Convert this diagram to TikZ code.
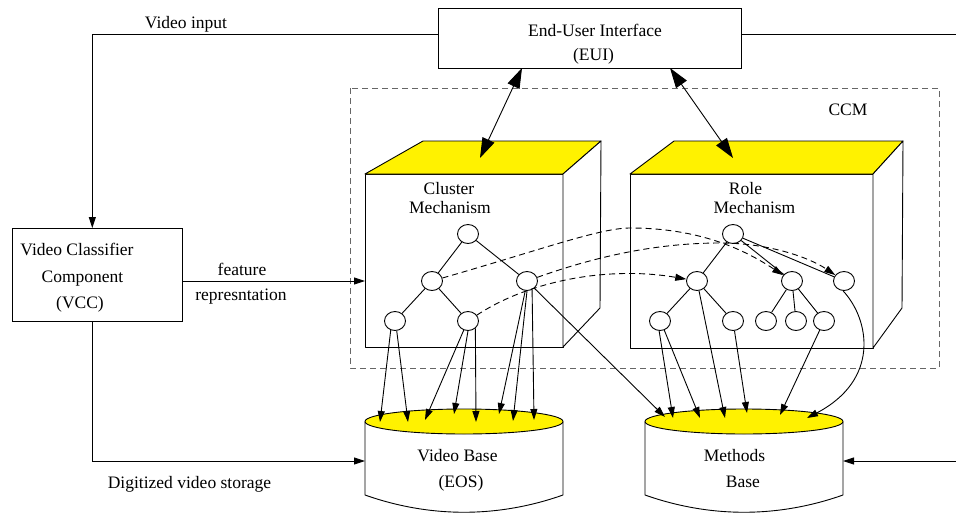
\documentclass[tikz,border=0pt]{standalone}
\usepackage{fontspec}
\setmainfont{Liberation Serif}
\usetikzlibrary{arrows.meta,shapes.geometric}
\begin{document}
\begin{tikzpicture}[x=1pt,y=-1pt,
  lw/.style={line width=0.9pt},
  arr/.style={lw,-{Triangle[length=11pt,width=7pt]}},
  bigarr/.style={lw,{Triangle[length=20pt,width=13pt]}-{Triangle[length=20pt,width=13pt]}},
  dasharr/.style={lw,dash pattern=on 6pt off 4pt,-{Triangle[length=11pt,width=7pt]}},
  lbl/.style={anchor=base,inner sep=0pt,font=\fontsize{17.5}{21}\selectfont},
  tn/.style={draw,ellipse,lw,minimum width=21pt,minimum height=19pt,inner sep=0pt,fill=white},
  boxface/.style={draw,lw,fill=white,line join=round},
  topface/.style={draw,lw,fill=yellow,line join=round},
  rectbox/.style={draw,lw,inner sep=0pt},
  ccmbox/.style={draw=black!60,lw,dash pattern=on 6pt off 4pt},
]
\useasboundingbox (0,0) rectangle (956,514);

% CCM dashed frame
\draw[ccmbox] (350,88) rectangle (939,368);

% EUI and VCC boxes
\node[rectbox,minimum width=303pt,minimum height=60pt] (eui) at (589.5,38) {};
\node[rectbox,minimum width=170pt,minimum height=93pt] (vcc) at (97,274.5) {};

% Cluster box
\draw[boxface] (365,174) rectangle (563,347);
\draw[topface] (365,174) -- (423,141) -- (601,141) -- (563,174) -- cycle;
\draw[boxface] (563,174) -- (601,141) -- (600,308) -- (563,347) -- cycle;
% Role box
\draw[boxface] (630,174) rectangle (873,348);
\draw[topface] (630,174) -- (674,141) -- (903,141) -- (873,174) -- cycle;
\draw[boxface] (873,174) -- (903,141) -- (902,308) -- (873,348) -- cycle;

% Cylinders
\draw[lw,fill=white] (365,421.5) -- (365,495) .. controls (430,518) and (498,518) .. (563,495) -- (563,421.5);
\draw[lw,fill=yellow] (464,421.5) ellipse [x radius=99, y radius=12.5];
\draw[lw,fill=white] (645,421.5) -- (645,495) .. controls (710,518) and (778,518) .. (843,495) -- (843,421.5);
\draw[lw,fill=yellow] (744,421.5) ellipse [x radius=99, y radius=12.5];

% Texts
\node[lbl] (tvi) at (186,28) {Video input};
\node[lbl] (teui1) at (595,36) {End-User Interface};
\node[lbl] (teui2) at (593.5,60) {(EUI)};
\node[lbl] (tccm) at (848,115) {CCM};
\node[lbl] (tv1) at (77,255) {Video Classifier};
\node[lbl] (tv2) at (82.5,282) {Component};
\node[lbl] (tv3) at (80,308) {(VCC)};
\node[lbl] (tf1) at (242,275) {feature};
\node[lbl] (tf2) at (241,300) {represntation};
\node[lbl] (tdv) at (189.5,488) {Digitized video storage};
\node[lbl] (tc1) at (449,194) {Cluster};
\node[lbl] (tc2) at (450,213) {Mechanism};
\node[lbl] (tr1) at (745.5,194) {Role};
\node[lbl] (tr2) at (754.5,213) {Mechanism};
\node[lbl] (tvb1) at (457.5,461) {Video Base};
\node[lbl] (tvb2) at (461,487) {(EOS)};
\node[lbl] (tmb1) at (734.5,461) {Methods};
\node[lbl] (tmb2) at (743,487) {Base};

% Tree nodes: cluster
\node[tn] (c0) at (468,234) {};
\node[tn] (c1) at (432,281) {};
\node[tn] (c2) at (527,281) {};
\node[tn] (c3) at (395,321) {};
\node[tn] (c4) at (468,321) {};
% Tree nodes: role
\node[tn] (r0) at (733,234) {};
\node[tn] (ra) at (697,281) {};
\node[tn] (rb) at (792,281) {};
\node[tn] (rc) at (844,281) {};
\node[tn] (ra1) at (660,321) {};
\node[tn] (ra2) at (733,321) {};
\node[tn] (rb1) at (766,321) {};
\node[tn] (rb2) at (796,321) {};
\node[tn] (rb3) at (824,321) {};

% Tree edges
\draw[lw] (c0) -- (c1); \draw[lw] (c0) -- (c2);
\draw[lw] (c1) -- (c3); \draw[lw] (c1) -- (c4);
\draw[lw] (r0) -- (ra); \draw[lw] (r0) -- (rb); \draw[lw] (r0) -- (rc);
\draw[lw] (ra) -- (ra1); \draw[lw] (ra) -- (ra2);
\draw[lw] (rb) -- (rb1); \draw[lw] (rb) -- (rb2); \draw[lw] (rb) -- (rb3);

% Connector end points
\coordinate (eL) at (438,34);
\coordinate (vccT) at (92.3,228);
\coordinate (eR) at (741,34);
\coordinate (edgeT) at (956,34);
\coordinate (vccR) at (182,281);
\coordinate (clL) at (365,281);
\coordinate (vccB) at (92.3,321);
\coordinate (vbL) at (365,461);
\coordinate (edgeB) at (956,461);
\coordinate (mbR) at (843,461);
\coordinate (e1) at (522,68);
\coordinate (t1) at (480,158);
\coordinate (e2) at (670,68);
\coordinate (t2) at (733,158);
\coordinate (v1) at (380,422);
\coordinate (v2) at (408,422);
\coordinate (v3) at (425,420);
\coordinate (v4) at (454,414);
\coordinate (v5) at (476,422);
\coordinate (v6) at (499,414);
\coordinate (v7) at (513,421);
\coordinate (v8) at (534,420);
\coordinate (m1) at (665,417);
\coordinate (m2) at (673,418);
\coordinate (m3) at (700,418);
\coordinate (m4) at (725,418);
\coordinate (m5) at (747,413);
\coordinate (m6) at (780,415);
\coordinate (m7) at (807,418);

% Outer connectors
\draw[arr] (eL) -| (vccT);
\draw[lw] (eR) -- (edgeT);
\draw[arr] (vccR) -- (clL);
\draw[arr] (vccB) |- (vbL);
\draw[arr] (edgeB) -- (mbR);
\draw[bigarr] (e1) -- (t1);
\draw[bigarr] (e2) -- (t2);

% Dashed links between trees
\draw[dasharr] (c1) .. controls (540,250) and (600,228) .. (630,228) .. controls (700,228) and (745,250) .. (rb);
\draw[dasharr] (c2) .. controls (600,255) and (660,243) .. (720,243) .. controls (770,243) and (810,258) .. (rc);
\draw[dasharr] (c4) .. controls (530,280) and (610,266) .. (ra);

% Arrows into Video Base
\draw[arr] (c3.-115) -- (v1);
\draw[arr] (c3.-80) -- (v2);
\draw[arr] (c4.-115) -- (v3);
\draw[arr] (c4.-90) -- (v4);
\draw[arr] (c4.-45) -- (v5);
\draw[arr] (c2.-100) -- (v6);
\draw[arr] (c2.-90) -- (v7);
\draw[arr] (c2.-60) -- (v8);
% Arrows into Methods Base
\draw[arr] (c2) -- (m1);
\draw[arr] (ra1.-95) -- (m2);
\draw[arr] (ra1.-65) -- (m3);
\draw[arr] (ra) -- (m4);
\draw[arr] (ra2) -- (m5);
\draw[arr] (rb3) -- (m6);
\draw[arr] (rc.-95) .. controls (870,320) and (880,380) .. (m7);
\end{tikzpicture}
\end{document}
